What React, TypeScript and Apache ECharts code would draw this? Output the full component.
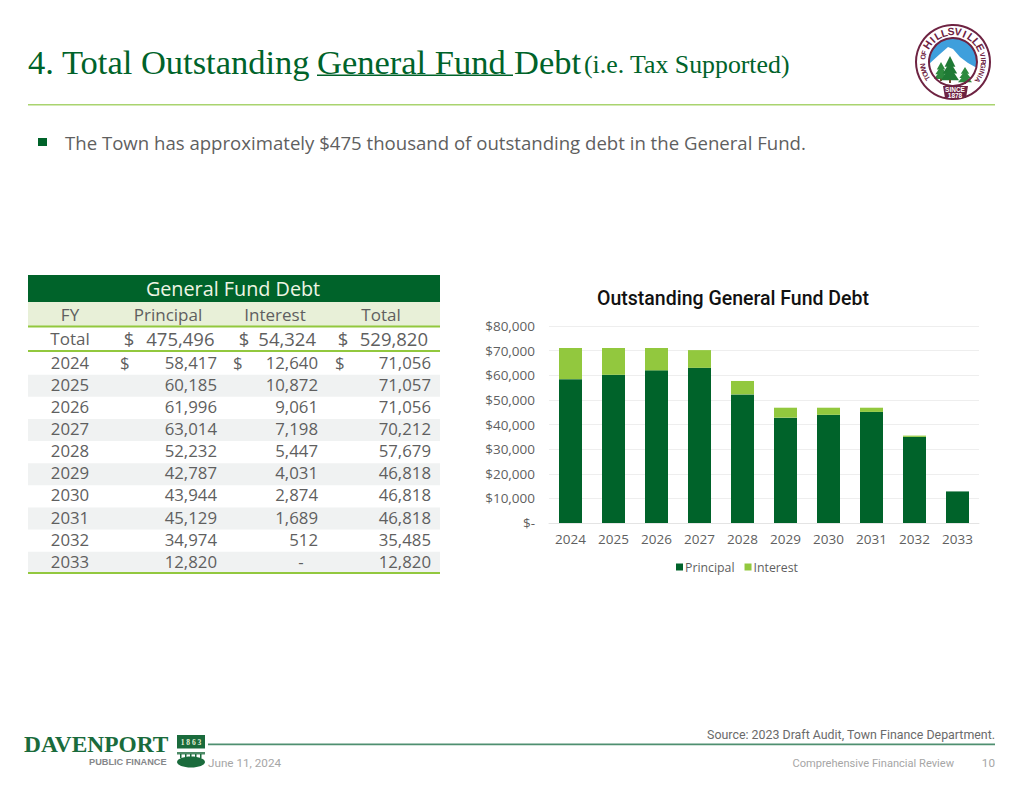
import React, { useEffect, useRef } from "react";
import * as echarts from "echarts";

const years = ["2024", "2025", "2026", "2027", "2028", "2029", "2030", "2031", "2032", "2033"];
const principal = [58417, 60185, 61996, 63014, 52232, 42787, 43944, 45129, 34974, 12820];
const interest = [12640, 10872, 9061, 7198, 5447, 4031, 2874, 1689, 512, 0];
const totals = [71056, 71057, 71056, 70212, 57679, 46818, 46818, 46818, 35485, 12820];
const totalRow = ["475,496", "54,324", "529,820"];

const DARK = "#00632a";
const LIGHT = "#92c83e";
const BODY = "'Open Sans', sans-serif";
const FOOT = "Roboto, sans-serif";
const SERIF = "'Liberation Serif', serif";
const SANS = "'Liberation Sans', sans-serif";
const GRAY = "#5f5f5f";

const fmt = (n: number) => (n === 0 ? "-" : n.toLocaleString("en-US"));

function txt(text: string, x: number, y: number, size: number, fill: string, align = "left", family = BODY, weight = "normal", extra: any = {}) {
  return {
    type: "text", x, y, silent: true, ...extra,
    style: { text, fill, font: `${weight} ${size}px ${family}`, textAlign: align, textVerticalAlign: "middle" },
  };
}
function box(x: number, y: number, width: number, height: number, fill: string) {
  return { type: "rect", silent: true, shape: { x, y, width, height }, style: { fill } };
}
function poly(points: number[][], fill: string) {
  return { type: "polygon", silent: true, shape: { points }, style: { fill } };
}
function tree(x: number, top: number, bottom: number, w: number, fill: string) {
  const h = bottom - top;
  return [
    poly([[x - w * 0.3, top + h * 0.4], [x, top], [x + w * 0.3, top + h * 0.4]], fill),
    poly([[x - w * 0.4, top + h * 0.65], [x, top + h * 0.2], [x + w * 0.4, top + h * 0.65]], fill),
    poly([[x - w * 0.5, top + h * 0.9], [x, top + h * 0.4], [x + w * 0.5, top + h * 0.9]], fill),
    box(x - 1, top + h * 0.88, 2, h * 0.12, "#6b4a2a"),
  ];
}
function arcText(s: string, cx: number, cy: number, r: number, from: number, to: number, size: number, fill: string) {
  const n = s.length;
  return s.split("").map((c, i) => {
    const deg = n > 1 ? from + ((to - from) * i) / (n - 1) : from;
    const a = (deg * Math.PI) / 180;
    return txt(c, cx + r * Math.sin(a), cy - r * Math.cos(a), size, fill, "center", SANS, "bold", { rotation: -a });
  });
}

function headerElements() {
  return [
    txt("4. Total Outstanding", 28, 62, 34.5, DARK, "left", SERIF),
    txt("General Fund", 317, 62, 34.5, DARK, "left", SERIF),
    box(317, 74.5, 196, 1.5, DARK),
    txt("Debt", 514, 62, 34.5, DARK, "left", SERIF),
    txt("(i.e. Tax Supported)", 584, 64, 25.8, DARK, "left", SERIF),
    box(28, 104, 967, 1.5, "#a9d46f"),
    box(38, 138, 9, 8, DARK),
    txt("The Town has approximately $475 thousand of outstanding debt in the General Fund.", 65, 142, 18.6, GRAY),
  ];
}

function sealElements() {
  const cx = 953, cy = 62, M = "#6e2342";
  return [
    { type: "circle", silent: true, shape: { cx, cy, r: 37 }, style: { fill: "#fff", stroke: M, lineWidth: 2 } },
    { type: "circle", silent: true, shape: { cx, cy, r: 24 }, style: { fill: "#3f9fdc" } },
    { type: "sector", silent: true, shape: { cx, cy, r: 24, r0: 0, startAngle: 0.25, endAngle: Math.PI - 0.05 }, style: { fill: "#fff" } },
    poly([[929, 64], [940, 54], [948, 47], [953, 49], [960, 57], [968, 63], [977, 68], [965, 80], [940, 80]], "#fff"),
    ...tree(941, 62, 81, 14, "#2d8a3e"),
    ...tree(950, 56, 83, 18, "#1f7a35"),
    ...tree(965, 67, 84, 14, "#2d8a3e"),
    poly([[943, 86], [968, 86], [966, 98], [945, 98]], M),
    txt("SINCE", 955, 89.5, 6.5, "#fff", "center", SANS, "bold"),
    txt("1878", 955, 95, 6.5, "#fff", "center", SANS, "bold"),
    { type: "circle", silent: true, shape: { cx, cy, r: 24 }, style: { fill: "none", stroke: M, lineWidth: 2 } },
    ...arcText("HILLSVILLE", cx, cy, 30.5, -56, 62, 10.5, M),
    ...arcText("TOWN OF", cx, cy, 30.5, -122, -72, 7, M),
    ...arcText("VIRGINIA", cx, cy, 30.5, 76, 126, 7, M),
  ];
}

function tableElements() {
  const els: any[] = [
    box(28, 275, 412, 27, DARK),
    box(28, 302, 412, 24, "#e8f0d8"),
    txt("General Fund Debt", 233, 288, 19.8, "#eef5e4", "center"),
    txt("FY", 70, 314, 17, GRAY, "center"),
    txt("Principal", 168, 314, 17, GRAY, "center"),
    txt("Interest", 275, 314, 17, GRAY, "center"),
    txt("Total", 381, 314, 17, GRAY, "center"),
    box(28, 325.5, 412, 2, LIGHT),
    txt("Total", 70, 338.5, 17, GRAY, "center"),
    txt("$", 129, 338.5, 18.5, GRAY, "center"),
    txt(totalRow[0], 214.5, 338.5, 18.5, GRAY, "right"),
    txt("$", 244, 338.5, 18.5, GRAY, "center"),
    txt(totalRow[1], 316, 338.5, 18.5, GRAY, "right"),
    txt("$", 343, 338.5, 18.5, GRAY, "center"),
    txt(totalRow[2], 428, 338.5, 18.5, GRAY, "right"),
    box(28, 350, 412, 2, LIGHT),
  ];
  years.forEach((y, i) => {
    const top = 352 + i * 22.15;
    const mid = top + 10;
    if (i % 2 === 1) els.push(box(28, top + 0.5, 412, 22, "#f0f2f2"));
    els.push(txt(y, 70, mid, 16.8, GRAY, "center"));
    els.push(txt(fmt(principal[i]), 217, mid, 16.8, GRAY, "right"));
    els.push(txt(fmt(interest[i]), i === 9 ? 301 : 318, mid, 16.8, GRAY, i === 9 ? "center" : "right"));
    els.push(txt(fmt(totals[i]), 431, mid, 16.8, GRAY, "right"));
    if (i === 0) {
      els.push(txt("$", 120, mid, 16.8, GRAY), txt("$", 233, mid, 16.8, GRAY), txt("$", 335, mid, 16.8, GRAY));
    }
  });
  els.push(box(28, 572, 412, 2, LIGHT));
  return els;
}

function footerElements() {
  const G = "#1a6b3c";
  const posts = [180, 185, 190, 195, 200].map((x) => box(x, 754, 1.5, 4, G));
  return [
    txt("DAVENPORT", 24, 744, 23.4, G, "left", SERIF, "bold"),
    txt("PUBLIC FINANCE", 89, 762, 9.2, "#85878a", "left", SANS, "bold"),
    box(177, 735, 28, 13.5, G),
    txt("1 8 6 3", 191, 742, 7.5, "#e8f0d8", "center", SERIF, "bold"),
    box(177, 752, 28, 2.5, "#4d8a66"),
    ...posts,
    { type: "ellipse", silent: true, shape: { cx: 191, cy: 762, rx: 14, ry: 5.5 }, style: { fill: G } },
    box(208, 743.5, 787, 1.8, "#4f8f70"),
    txt("Source: 2023 Draft Audit, Town Finance Department.", 995, 734, 12.4, "#6a6a6a", "right", FOOT),
    txt("June 11, 2024", 208, 763, 11.7, "#a6a6a6", "left", FOOT),
    txt("Comprehensive Financial Review", 954, 763, 11.1, "#a6a6a6", "right", FOOT),
    txt("10", 995, 763, 11.7, "#a6a6a6", "right", FOOT),
  ];
}

export default function App() {
  const ref = useRef<HTMLDivElement>(null);
  useEffect(() => {
    const chart = echarts.init(ref.current!, undefined, { renderer: "svg" });
    chart.setOption({
      animation: false,
      backgroundColor: "#fff",
      title: {
        text: "Outstanding General Fund Debt",
        left: 728, top: 283, textAlign: "center",
        textStyle: { fontFamily: FOOT, fontSize: 19.5, fontWeight: 500, color: "#111" },
      },
      legend: {
        left: 671, top: 556, itemWidth: 7, itemHeight: 7, itemGap: 10,
        icon: "rect",
        textStyle: { fontFamily: BODY, fontSize: 12.3, color: GRAY, padding: [0, 0, 0, -3] },
        data: ["Principal", "Interest"],
      },
      grid: { left: 549, top: 326, width: 430, height: 197 },
      xAxis: {
        type: "category", data: years,
        axisTick: { show: false },
        axisLine: { lineStyle: { color: "#e4e4e4" } },
        axisLabel: { fontFamily: BODY, fontSize: 13.5, color: GRAY, margin: 9 },
      },
      yAxis: {
        type: "value", min: 0, max: 80000, interval: 10000,
        axisLine: { show: false }, axisTick: { show: false },
        splitLine: { lineStyle: { color: "#eeeeee" } },
        axisLabel: {
          fontFamily: BODY, fontSize: 13.5, color: GRAY, margin: 14,
          formatter: (v: number) => (v === 0 ? "$-" : "$" + v.toLocaleString("en-US")),
        },
      },
      series: [
        { name: "Principal", type: "bar", stack: "d", data: principal, barWidth: 23, itemStyle: { color: DARK } },
        { name: "Interest", type: "bar", stack: "d", data: interest, barWidth: 23, itemStyle: { color: LIGHT } },
      ],
      graphic: { elements: [...headerElements(), ...sealElements(), ...tableElements(), ...footerElements()] },
    });
    return () => chart.dispose();
  }, []);
  return <div ref={ref} style={{ position: "absolute", left: 0, top: 0, width: 1024, height: 791 }} />;
}
